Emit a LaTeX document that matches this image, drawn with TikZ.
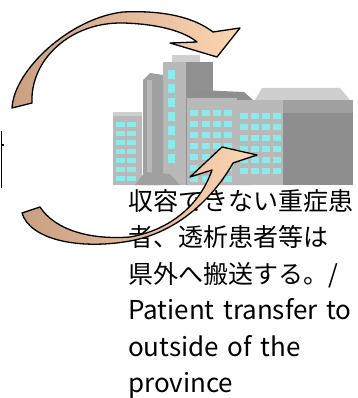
\documentclass[tikz,border=0pt]{standalone}
\usepackage{fontspec}
\setmainfont{Noto Sans CJK JP}
\usepackage{tikz}
\usetikzlibrary{shapes, positioning}
\definecolor{tailtan}{HTML}{C9A082}
\definecolor{headpeach}{HTML}{FCD5B2}
\definecolor{pane}{HTML}{8CEAEA}
\definecolor{wallfront}{HTML}{B9B9B9}
\definecolor{walldark}{HTML}{A0A0A0}
\definecolor{wallside}{HTML}{8E8E8E}
\definecolor{wallroof}{HTML}{CFCFCF}
\tikzstyle{bentarrow} = [draw=black, line width=1.3pt, line join=round, left color=tailtan, right color=headpeach]
\tikzstyle{front} = [fill=wallfront]
\tikzstyle{shade} = [fill=walldark]
\tikzstyle{side} = [fill=wallside]
\tikzstyle{roof} = [fill=wallroof]
\tikzstyle{window} = [fill=pane]
\tikzstyle{caption} = [anchor=north west, align=left, inner sep=0, font=\fontsize{25}{36.5}\selectfont]
\newcommand{\latin}{\fontsize{26}{38}\selectfont\spaceskip=0.33em}

\begin{document}
\begin{tikzpicture}[x=1pt, y=-1pt]
				\useasboundingbox (0,0) rectangle (357,398);
				\clip (0,0) rectangle (357,398);

				% tall tower
				\fill[shade] (163,62) rectangle (213,185);
				\fill[walldark!90!black] (186,62) rectangle (213,185);
				\fill[front] (163,62) rectangle (186,185);
				\fill[roof] (172,55) rectangle (200,62);
				\foreach \y in {70,84,98,112,126,140,154}
					\fill[window] (168,\y) rectangle (175,\y+9);

				% thin tower
				\fill[shade] (143,80) -- (150,73) -- (163,75) -- (163,185) -- (143,185) -- cycle;
				\fill[front] (147,80) rectangle (152,185);

				% left block
				\fill[front] (113,112) rectangle (142,185);
				\fill[roof] (113,112) rectangle (142,116);
				\foreach \y in {122,131,...,176}
					\foreach \x in {116,127}
						\fill[window] (\x,\y) rectangle (\x+9,\y+5);

				% middle block
				\fill[side] (187,96) -- (198,90) -- (244,92) -- (253,100) -- (253,185) -- (187,185) -- cycle;
				\fill[front] (187,98) rectangle (237,185);
				\foreach \y in {110,121,...,176}
					\foreach \x in {190,202,213,224}
						\fill[window] (\x,\y) rectangle (\x+8,\y+6);

				% right block
				\fill[roof] (255,100) -- (262,88) -- (340,88) -- (350,100) -- cycle;
				\fill[shade] (283,100) rectangle (353,113);
				\fill[side] (283,113) rectangle (353,185);
				\fill[front] (237,100) rectangle (283,185);
				\foreach \y in {113,124,...,176}
					\foreach \x in {240,251,262,273}
						\fill[window] (\x,\y) rectangle (\x+8,\y+6);

				% entrance
				\fill[walldark] (135,185) -- (145,172) -- (170,174) -- (180,185) -- cycle;

				% cut-off mark at the left edge
				\draw[line width=1.5pt] (1.5,131) -- (1.5,188);
				\draw[line width=1.2pt] (1.5,145) -- (4,145);

				\node (Caption) [caption] at (128,189) {収容できない重症患\\者、透析患者等は\\県外へ搬送する。/\\{\latin Patient transfer to}\\{\latin outside of the}\\{\latin province}};

				% arrow over the top
				\path[bentarrow] (12,108) -- (32,103)
					.. controls (30,60) and (70,22) .. (123,23)
					.. controls (160,24) and (185,32) .. (197,42)
					-- (170,43) -- (217,57) -- (240,28) -- (213,32)
					.. controls (195,18) and (165,10) .. (123,12)
					.. controls (70,18) and (14,70) .. (12,108) -- cycle;

				% arrow from below
				\path[bentarrow] (22,213) -- (40,207)
					.. controls (55,230) and (90,240) .. (130,237)
					.. controls (170,230) and (200,205) .. (212,170)
					-- (190,177) -- (222,147) -- (257,155) -- (233,163)
					.. controls (215,195) and (180,232) .. (130,241)
					.. controls (80,250) and (30,240) .. (22,213) -- cycle;
			\end{tikzpicture}
\end{document}
